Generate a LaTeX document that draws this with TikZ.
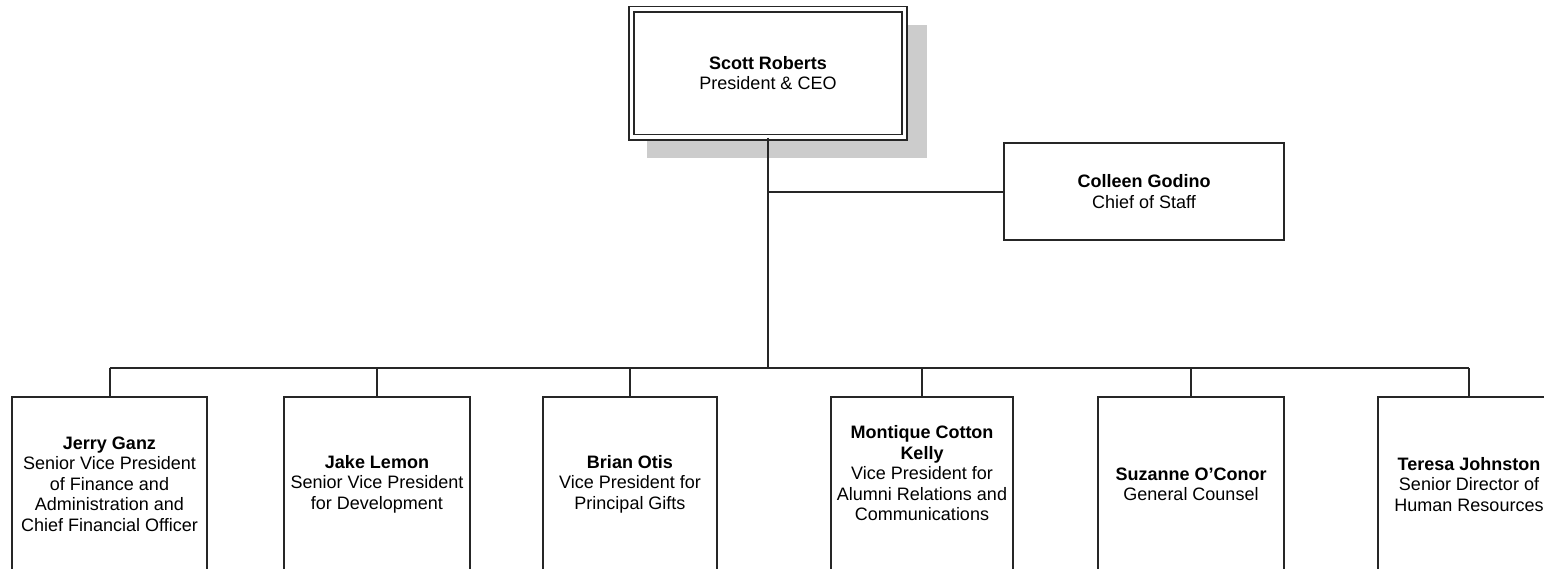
\documentclass[tikz,border=0pt]{standalone}
\usepackage{fontspec}
\setmainfont{Liberation Sans}
\begin{document}
\begin{tikzpicture}[x=1pt,y=-1pt,
  box/.style={draw=black!85, line width=2pt, fill=white, rectangle, inner sep=0pt, align=center,
    font=\fontsize{18}{20.5}\selectfont},
  ceobox/.style={box, line width=1.8pt, double=white, double distance=3.4pt},
  lbl/.style={inner sep=0pt, align=center, font=\fontsize{18}{20.5}\selectfont},
  conn/.style={draw=black!85, line width=2pt},
  shadowbox/.style={fill=black!20, draw=none}
]
\clip (0,0) rectangle (1544,568);
\fill[white] (0,0) rectangle (1544,568);

% shadow of the CEO box
\fill[shadowbox] (647,25) rectangle (927,158);

% CEO
\node[ceobox, minimum width=273pt, minimum height=128pt] (ceo) at (768,73)
  {\textbf{Scott Roberts}\\President \& CEO};

% Chief of staff
\node[box, minimum width=280pt, minimum height=97pt] (cos) at (1144,191.5)
  {\textbf{Colleen Godino}\\Chief of Staff};

% direct reports
\node[box, minimum width=195pt, minimum height=175.5pt] (b1) at (109.5,484.25)
  {\textbf{Jerry Ganz}\\Senior Vice President\\of Finance and\\Administration and\\Chief Financial Officer};
\node[box, minimum width=186pt, minimum height=175.5pt] (b2) at (377,484.25)
  {\textbf{Jake Lemon}\\Senior Vice President\\for Development};
\node[box, minimum width=174pt, minimum height=175.5pt] (b3) at (630,484.25)
  {\textbf{Brian Otis}\\Vice President for\\Principal Gifts};
\node[box, minimum width=182pt, minimum height=175.5pt] (b4) at (922,484.25) {};
\node[lbl] (b4t) at ([yshift=11pt]b4.center)
  {\textbf{Montique Cotton}\\\textbf{Kelly}\\Vice President for\\Alumni Relations and\\Communications};
\node[box, minimum width=186pt, minimum height=175.5pt] (b5) at (1191,484.25)
  {\textbf{Suzanne O'Conor}\\General Counsel};
\node[box, minimum width=182pt, minimum height=175.5pt] (b6) at (1469,484.25)
  {\textbf{Teresa Johnston}\\Senior Director of\\Human Resources};

% connectors
\coordinate (bus) at (768,368);
\draw[conn] (ceo.south) -- (bus);
\draw[conn] (cos.west) -- (cos.west -| ceo.south);
\draw[conn] (bus -| b1.north) -- (bus -| b6.north);
\foreach \b in {b1,b2,b3,b4,b5,b6}{
  \draw[conn] (bus -| \b.north) -- (\b.north);
}
\end{tikzpicture}
\end{document}
